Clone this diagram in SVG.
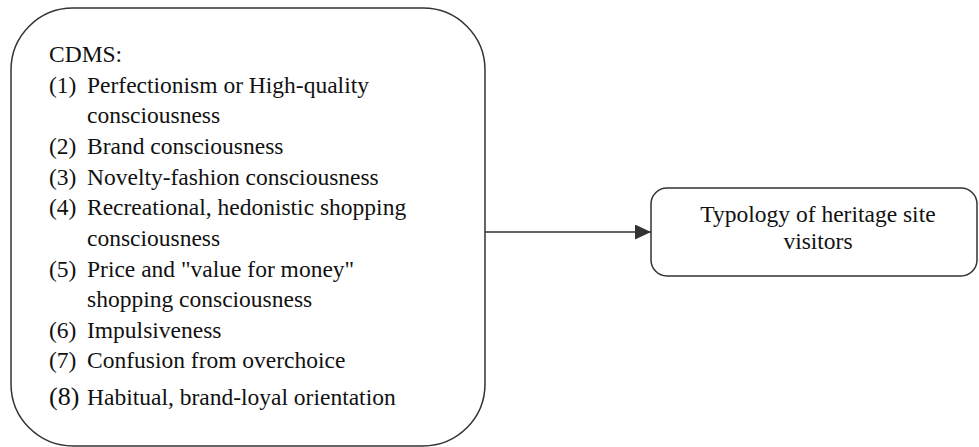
<svg xmlns="http://www.w3.org/2000/svg" width="979" height="447" viewBox="0 0 979 447">
<style>
.box{fill:#fff;stroke:#333;stroke-width:1.5}
.t{font-family:"Liberation Serif","Times New Roman",serif;font-size:23.5px;fill:#111}
.c{stroke:#333;stroke-width:1.3;fill:none}
</style>
<defs>
<marker id="ah" markerWidth="16" markerHeight="15" refX="16" refY="7.5" orient="auto" markerUnits="userSpaceOnUse">
<path d="M0,0 L16,7.5 L0,15 Z" fill="#333"/>
</marker>
</defs>
<rect width="979" height="447" fill="#fff"/>
<g id="cdms">
<rect class="box" x="11" y="8" width="474" height="438" rx="62" ry="62"/>
<text class="t" x="49" y="62">CDMS:</text>
<text class="t" x="49" y="93">(1)</text><text class="t" x="87" y="93">Perfectionism or High-quality</text>
<text class="t" x="87" y="123">consciousness</text>
<text class="t" x="49" y="154">(2)</text><text class="t" x="87" y="154">Brand consciousness</text>
<text class="t" x="49" y="185">(3)</text><text class="t" x="87" y="185">Novelty-fashion consciousness</text>
<text class="t" x="49" y="215">(4)</text><text class="t" x="87" y="215">Recreational, hedonistic shopping</text>
<text class="t" x="87" y="246">consciousness</text>
<text class="t" x="49" y="277">(5)</text><text class="t" x="87" y="277">Price and "value for money"</text>
<text class="t" x="87" y="307">shopping consciousness</text>
<text class="t" x="49" y="338">(6)</text><text class="t" x="87" y="338">Impulsiveness</text>
<text class="t" x="49" y="368">(7)</text><text class="t" x="87" y="368">Confusion from overchoice</text>
<text class="t" x="49" y="405" style="font-size:26px">(8)</text><text class="t" x="87" y="405">Habitual, brand-loyal orientation</text>
</g>
<g id="typology">
<rect class="box" x="651" y="188" width="326" height="88" rx="16" ry="16"/>
<text class="t" x="818" y="222" text-anchor="middle">Typology of heritage site</text>
<text class="t" x="818" y="249" text-anchor="middle">visitors</text>
</g>
<g id="connectors">
<line class="c" x1="485" y1="232" x2="651" y2="232" marker-end="url(#ah)"/>
</g>
</svg>
